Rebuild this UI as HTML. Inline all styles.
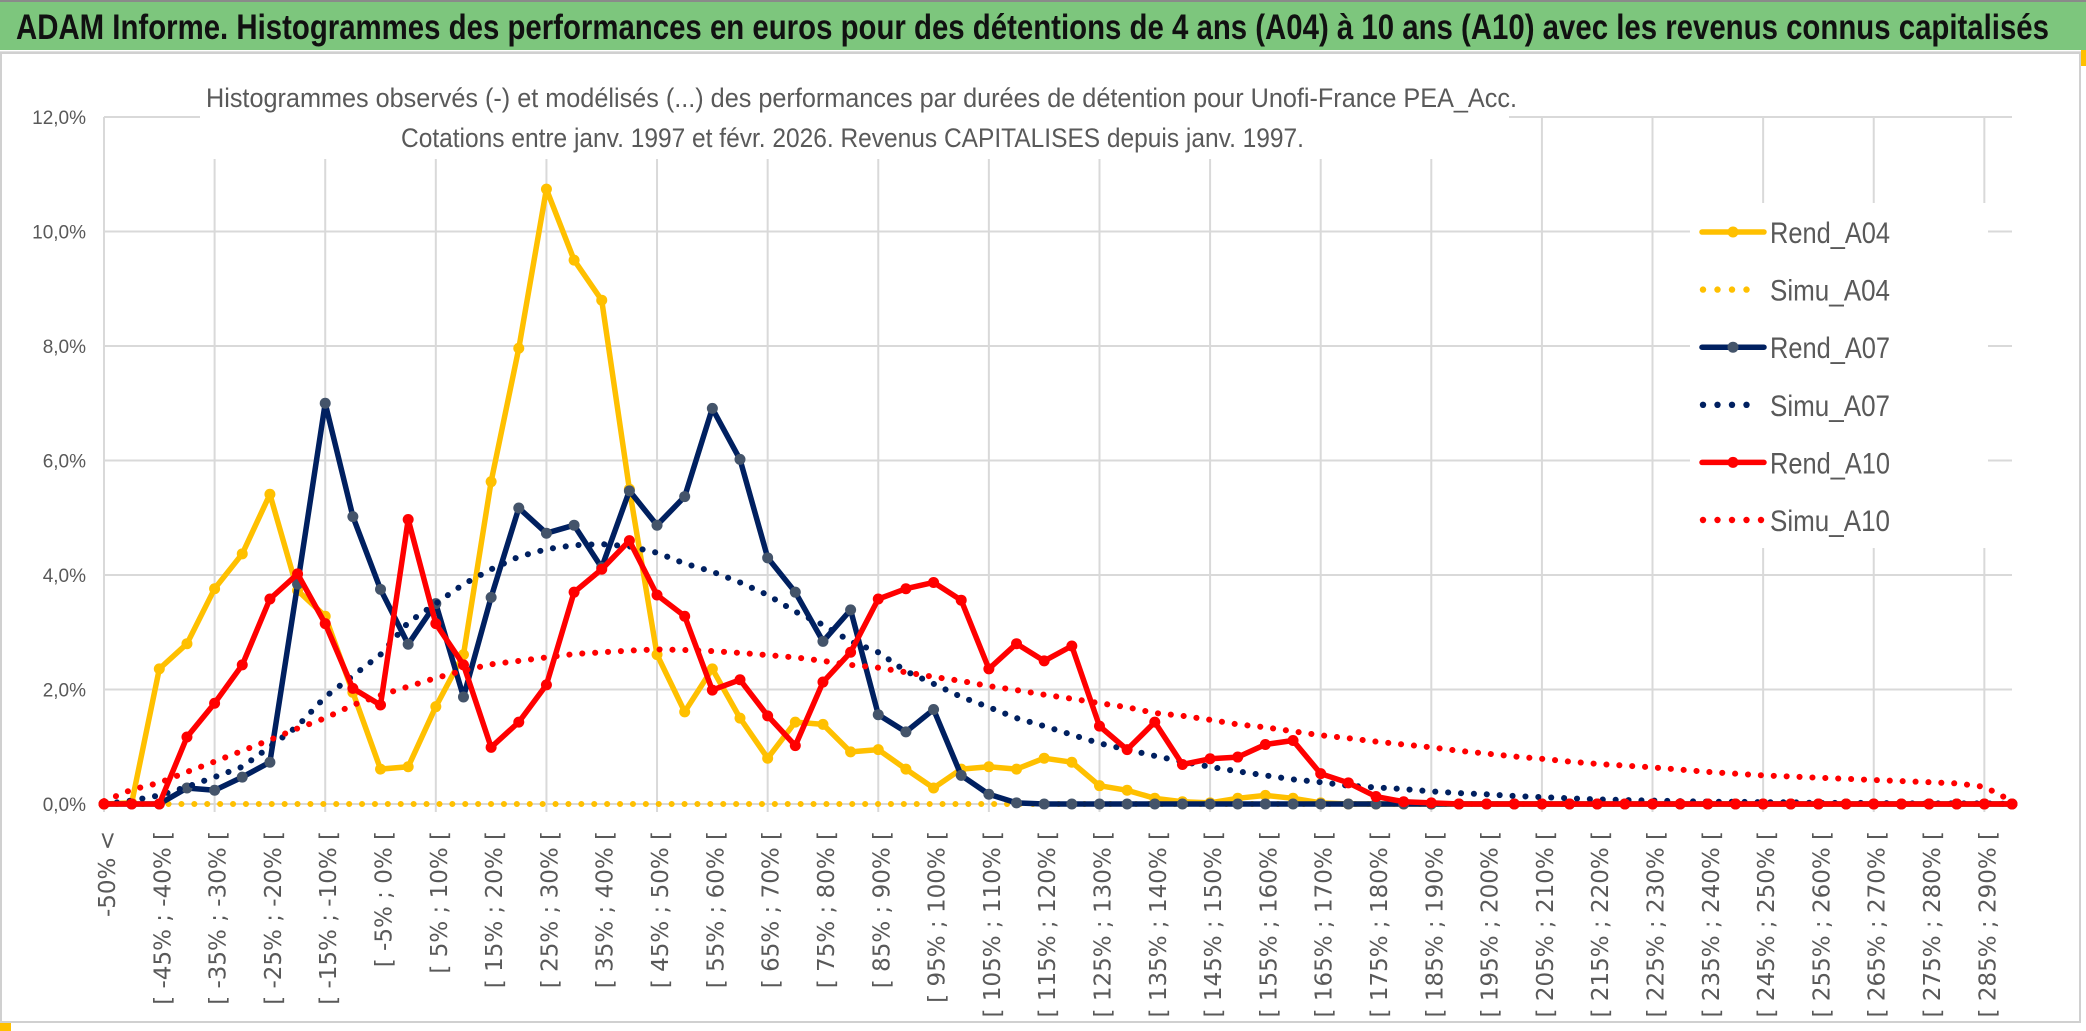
<!DOCTYPE html>
<html><head><meta charset="utf-8"><title>ADAM Informe</title>
<style>
html,body{margin:0;padding:0;background:#fff;}
svg{display:block;}
</style></head>
<body>
<svg id="chart" width="2086" height="1031" viewBox="0 0 2086 1031" xmlns="http://www.w3.org/2000/svg">
  <rect x="0" y="0" width="2086" height="1031" fill="#ffffff"/>
  <rect x="0" y="0" width="2086" height="50" fill="#7dc67d"/>
  <line x1="0" y1="1" x2="2086" y2="1" stroke="#8a8a8a" stroke-width="2"/>
  <text x="16" y="39" font-family="Liberation Sans, sans-serif" font-weight="bold" font-size="35" fill="#111" textLength="2033" lengthAdjust="spacingAndGlyphs">ADAM Informe. Histogrammes des performances en euros pour des détentions de 4 ans (A04) à 10 ans (A10) avec les revenus connus capitalisés</text>
  <line x1="0" y1="52" x2="2086" y2="52" stroke="#e0e0e0" stroke-width="2"/>
  <rect x="1" y="53" width="2079" height="969" fill="none" stroke="#d0d0d0" stroke-width="2"/>
  <rect x="0" y="1023" width="11" height="8" fill="#ffc000"/>
  <rect x="2081" y="50" width="5" height="16" fill="#ffc000"/>
  <g id="grid"></g>
  <g id="yaxis"></g>
  <g id="xaxis"></g>
  <rect x="200" y="60" width="1309" height="99" fill="#ffffff"/>
  <text x="206" y="107" font-family="Liberation Sans, sans-serif" font-size="27" fill="#595959" textLength="1311" lengthAdjust="spacingAndGlyphs">Histogrammes observés (-) et modélisés (...) des performances par durées de détention pour Unofi-France PEA_Acc.</text>
  <text x="401" y="147" font-family="Liberation Sans, sans-serif" font-size="27" fill="#595959" textLength="903" lengthAdjust="spacingAndGlyphs">Cotations entre janv. 1997 et févr. 2026. Revenus CAPITALISES depuis janv. 1997.</text>
  <g id="series"></g>
  <g id="legend"></g>
</svg>
<script>
const categories = ["-50% <","[ -50% ; -45% [","[ -45% ; -40% [","[ -40% ; -35% [","[ -35% ; -30% [","[ -30% ; -25% [","[ -25% ; -20% [","[ -20% ; -15% [","[ -15% ; -10% [","[ -10% ; -5% [","[ -5% ; 0% [","[ 0% ; 5% [","[ 5% ; 10% [","[ 10% ; 15% [","[ 15% ; 20% [","[ 20% ; 25% [","[ 25% ; 30% [","[ 30% ; 35% [","[ 35% ; 40% [","[ 40% ; 45% [","[ 45% ; 50% [","[ 50% ; 55% [","[ 55% ; 60% [","[ 60% ; 65% [","[ 65% ; 70% [","[ 70% ; 75% [","[ 75% ; 80% [","[ 80% ; 85% [","[ 85% ; 90% [","[ 90% ; 95% [","[ 95% ; 100% [","[ 100% ; 105% [","[ 105% ; 110% [","[ 110% ; 115% [","[ 115% ; 120% [","[ 120% ; 125% [","[ 125% ; 130% [","[ 130% ; 135% [","[ 135% ; 140% [","[ 140% ; 145% [","[ 145% ; 150% [","[ 150% ; 155% [","[ 155% ; 160% [","[ 160% ; 165% [","[ 165% ; 170% [","[ 170% ; 175% [","[ 175% ; 180% [","[ 180% ; 185% [","[ 185% ; 190% [","[ 190% ; 195% [","[ 195% ; 200% [","[ 200% ; 205% [","[ 205% ; 210% [","[ 210% ; 215% [","[ 215% ; 220% [","[ 220% ; 225% [","[ 225% ; 230% [","[ 230% ; 235% [","[ 235% ; 240% [","[ 240% ; 245% [","[ 245% ; 250% [","[ 250% ; 255% [","[ 255% ; 260% [","[ 260% ; 265% [","[ 265% ; 270% [","[ 270% ; 275% [","[ 275% ; 280% [","[ 280% ; 285% [","[ 285% ; 290% [","[ 290% ; 295% ["];
const yTicks = [0, 2, 4, 6, 8, 10, 12];
const yTickLabels = ["0,0%","2,0%","4,0%","6,0%","8,0%","10,0%","12,0%"];
const rendA04 = [0,0.02,2.36,2.8,3.76,4.37,5.41,3.73,3.28,1.95,0.61,0.65,1.70,2.61,5.63,7.96,10.74,9.5,8.8,5.5,2.61,1.61,2.36,1.5,0.8,1.43,1.39,0.91,0.95,0.61,0.28,0.61,0.65,0.61,0.8,0.73,0.32,0.24,0.1,0.04,0.02,0.1,0.15,0.1,0.02,0,0,0,0,0,0,0,0,0,0,0,0,0,0,0,0,0,0,0,0,0,0,0,0,0];
const simuA04 = [0,0,0,0,0,0,0,0,0,0,0,0,0,0,0,0,0,0,0,0,0,0,0,0,0,0,0,0,0,0,0,0,0,0,0,0,0,0,0,0,0,0,0,0,0,0,0,0,0,0,0,0,0,0,0,0,0,0,0,0,0,0,0,0,0,0,0,0,0,0];
const rendA07 = [0,0,0,0.28,0.24,0.47,0.73,3.84,7.0,5.02,3.75,2.79,3.5,1.87,3.61,5.17,4.73,4.87,4.13,5.47,4.87,5.37,6.91,6.02,4.3,3.7,2.84,3.39,1.56,1.26,1.65,0.5,0.17,0.02,0,0,0,0,0,0,0,0,0,0,0,0,0,0,0,0,0,0,0,0,0,0,0,0,0,0,0,0,0,0,0,0,0,0,0,0];
const simuA07 = [0,0.06,0.15,0.3,0.47,0.65,1.0,1.36,1.87,2.24,2.61,3.17,3.5,3.84,4.1,4.32,4.45,4.52,4.54,4.5,4.39,4.2,4.06,3.87,3.65,3.36,3.13,2.84,2.65,2.32,2.1,1.87,1.69,1.5,1.36,1.21,1.06,0.95,0.84,0.74,0.65,0.57,0.5,0.43,0.38,0.32,0.29,0.26,0.22,0.19,0.17,0.14,0.12,0.1,0.08,0.07,0.06,0.05,0.04,0.04,0.03,0.03,0.02,0.02,0.02,0.01,0.01,0.01,0.01,0];
const rendA10 = [0,0,0,1.17,1.76,2.43,3.58,4.02,3.15,2.02,1.73,4.97,3.15,2.43,0.99,1.43,2.08,3.7,4.1,4.6,3.65,3.28,1.99,2.17,1.54,1.02,2.13,2.65,3.58,3.76,3.87,3.56,2.36,2.8,2.5,2.76,1.36,0.95,1.43,0.69,0.79,0.82,1.04,1.11,0.53,0.37,0.13,0.04,0.02,0,0,0,0,0,0,0,0,0,0,0,0,0,0,0,0,0,0,0,0,0];
const simuA10 = [0.05,0.25,0.37,0.56,0.74,0.93,1.12,1.32,1.5,1.73,1.9,2.05,2.2,2.33,2.44,2.5,2.56,2.62,2.65,2.68,2.7,2.69,2.67,2.64,2.6,2.56,2.5,2.43,2.38,2.3,2.22,2.15,2.06,1.99,1.91,1.84,1.76,1.69,1.59,1.54,1.47,1.39,1.34,1.27,1.2,1.15,1.09,1.04,0.99,0.93,0.88,0.83,0.79,0.74,0.7,0.67,0.64,0.6,0.56,0.53,0.5,0.48,0.46,0.44,0.42,0.4,0.38,0.36,0.3,0.05];
const seriesNames = ["Rend_A04","Simu_A04","Rend_A07","Simu_A07","Rend_A10","Simu_A10"];

const NS = "http://www.w3.org/2000/svg";
const X0 = 104, X1 = 2012, Y0 = 804, YMAX = 12, YTOP = 117;
function xScale(i){ return X0 + (X1 - X0) * i / (categories.length - 1); }
function yScale(v){ return Y0 - (Y0 - YTOP) * v / YMAX; }
function mk(tag, attrs, parent){ const e = document.createElementNS(NS, tag); for (const k in attrs) e.setAttribute(k, attrs[k]); parent.appendChild(e); return e; }

const grid = document.getElementById('grid');
yTicks.forEach(function(t, k){
  const l = mk('line', {x1: X0, x2: X1, y1: yScale(t), y2: yScale(t), stroke: '#d9d9d9', 'stroke-width': 2}, grid);
  
  
});
for (let i = 0; i < categories.length; i += 4) {
  const l = mk('line', {x1: xScale(i), x2: xScale(i), y1: YTOP, y2: Y0 + 8, stroke: '#d9d9d9', 'stroke-width': 2}, grid);
  
  
}
const yaxis = document.getElementById('yaxis');
yTicks.forEach(function(t, k){
  const tx = mk('text', {x: 86, y: yScale(t) + 7, 'text-anchor': 'end', 'font-family': 'Liberation Sans, sans-serif', 'font-size': 19, fill: '#595959'}, yaxis);
  tx.textContent = yTickLabels[k];
  
  
});
const xaxis = document.getElementById('xaxis');
for (let i = 0; i < categories.length; i += 2) {
  const bx = xScale(i) + 11, by = 831;
  const tx = mk('text', {x: bx, y: by, 'text-anchor': 'end', transform: 'rotate(-90 ' + bx + ' ' + by + ')', 'font-family': 'DejaVu Sans, sans-serif', 'font-size': 23, fill: '#595959'}, xaxis);
  tx.textContent = categories[i];
  
  
}

const seriesG = document.getElementById('series');
function pts(arr){ return arr.map(function(v, i){ return xScale(i).toFixed(1) + ',' + yScale(v).toFixed(1); }).join(' '); }
function drawSolid(arr, color, markerFill, name){
  const g = mk('g', {}, seriesG);
  
  
  const pl = mk('polyline', {points: pts(arr), fill: 'none', stroke: color, 'stroke-width': 5.5, 'stroke-linejoin': 'round', 'stroke-linecap': 'round'}, g);
  
  
  arr.forEach(function(v, i){
    const c = mk('circle', {cx: xScale(i), cy: yScale(v), r: 5.5, fill: markerFill}, g);
    
    
  });
}
function drawDotted(arr, color, name){
  const pl = mk('polyline', {points: pts(arr), fill: 'none', stroke: color, 'stroke-width': 6, 'stroke-linecap': 'round', 'stroke-linejoin': 'round', 'stroke-dasharray': '0.1 12.8'}, seriesG);
  
  
}
drawSolid(rendA04, '#ffc000', '#ffc000', 'rend-a04');
drawDotted(simuA04, '#ffc000', 'simu-a04');
drawSolid(rendA07, '#002060', '#44546a', 'rend-a07');
drawDotted(simuA07, '#002060', 'simu-a07');
drawSolid(rendA10, '#ff0000', '#ff0000', 'rend-a10');
drawDotted(simuA10, '#ff0000', 'simu-a10');

const legend = document.getElementById('legend');
const lbox = mk('rect', {x: 1690, y: 203, width: 298, height: 345, fill: '#ffffff'}, legend);


const legendColors = ['#ffc000','#ffc000','#002060','#002060','#ff0000','#ff0000'];
const legendMarkers = ['#ffc000', null, '#44546a', null, '#ff0000', null];
seriesNames.forEach(function(n, k){
  const y = 232 + k * 57.6;
  const g = mk('g', {}, legend);
  
  
  if (legendMarkers[k]) {
    mk('line', {x1: 1702, x2: 1764, y1: y, y2: y, stroke: legendColors[k], 'stroke-width': 5.5, 'stroke-linecap': 'round'}, g);
    mk('circle', {cx: 1733, cy: y, r: 5.5, fill: legendMarkers[k]}, g);
  } else {
    const cnt = (k === 5) ? 5 : 4;
    const step = (k === 5) ? 14.5 : 14.5;
    for (let d = 0; d < cnt; d++) mk('circle', {cx: 1703 + d * step, cy: y, r: 3.2, fill: legendColors[k]}, g);
  }
  const t = mk('text', {x: 1770, y: y + 11, 'font-family': 'Liberation Sans, sans-serif', 'font-size': 30, fill: '#595959', textLength: 120, lengthAdjust: 'spacingAndGlyphs'}, g);
  t.textContent = n;
});
</script>
</body></html>
